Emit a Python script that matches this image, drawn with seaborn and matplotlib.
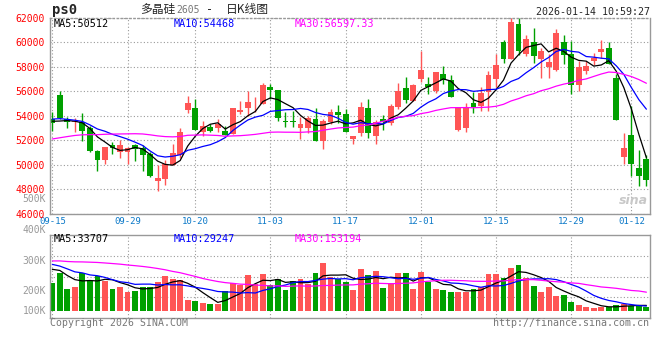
import matplotlib
matplotlib.use("Agg")
import matplotlib.pyplot as plt
import seaborn as sns
import pandas as pd
import numpy as np

# daily candles, 2025-09-15 .. 2026-01-14
open_ = [53730, 55700, 53735, 53470, 53470, 52980, 51090, 50360, 51630, 51040,
         51040, 51580, 51390, 50900, 48670, 48830, 50020, 50770, 54490, 54620,
         52710, 53090, 52980, 52790, 52520, 54270, 54600, 55000, 54950, 56380,
         56080, 53570, 53570, 52990, 53010, 53730, 51980, 53520, 54330, 54140,
         52120, 52600, 54600, 52380, 53730, 53410, 54680, 56240, 55210, 56970,
         56560, 56020, 57370, 56910, 52870, 53000, 55030, 54760, 55970, 56970,
         60010, 58640, 61490, 59040, 60010, 58640, 57960, 57770, 60010, 59040,
         56510, 57640, 58450, 59200, 59530, 57050, 50640, 52470, 49770, 50500]
close = [53410, 53790, 53520, 53600, 52790, 51090, 50360, 51450, 51390, 51580,
         51370, 51310, 50830, 49100, 48890, 50040, 50990, 52710, 55000, 52870,
         53190, 52760, 53310, 52440, 54620, 54490, 55130, 55080, 56480, 56100,
         53790, 53470, 53470, 53330, 53790, 51980, 53600, 54330, 54080, 52710,
         52380, 54680, 52580, 53520, 53470, 54810, 56020, 55270, 56480, 57770,
         56340, 57560, 56890, 55570, 54680, 54680, 54680, 55840, 57290, 58100,
         58640, 61630, 59250, 60280, 58850, 59310, 58360, 60740, 58990, 56510,
         57990, 58040, 58720, 59450, 58260, 53650, 51390, 50040, 49070, 48750]
high = [54300, 56020, 53920, 53790, 54220, 53190, 51230, 51450, 51850, 52060,
        51450, 51660, 51580, 51040, 49960, 50420, 51720, 52980, 55620, 55350,
        53570, 53310, 53730, 53190, 54620, 55210, 56020, 55490, 56700, 56560,
        56080, 54280, 54420, 53870, 53950, 54600, 53730, 54540, 54870, 54540,
        52380, 55130, 55350, 53680, 54060, 54950, 56700, 57150, 56620, 59250,
        57180, 57560, 58040, 57290, 54680, 55000, 55970, 56340, 57690, 59040,
        60140, 61950, 61950, 60600, 61140, 59500, 59040, 61090, 60600, 60060,
        58450, 58450, 59120, 60200, 60010, 57370, 52580, 54810, 51170, 50770]
low = [52790, 53700, 53000, 52710, 51980, 51040, 49480, 50040, 50910, 50580,
       50100, 50280, 49480, 49020, 47860, 48340, 49960, 50580, 54190, 52800,
       52380, 52660, 52710, 52440, 52520, 54140, 54000, 54280, 54950, 55350,
       53600, 53060, 53060, 52120, 52600, 51930, 51250, 53330, 53410, 52650,
       51720, 52330, 52200, 51720, 52870, 53250, 54540, 55080, 55210, 56750,
       55750, 55890, 56560, 55570, 52790, 52710, 54190, 54400, 54400, 56340,
       58320, 58640, 58990, 58850, 58320, 57100, 57050, 57640, 58230, 55750,
       56020, 57430, 58180, 58720, 58260, 53650, 50100, 49070, 48260, 48260]
# volume in thousands
vol_k = [214, 286, 166, 184, 291, 230, 268, 230, 166, 184,
         146, 153, 184, 184, 222, 268, 243, 235, 82, 74,
         61, 51, 51, 151, 210, 197, 273, 205, 281, 197,
         243, 159, 228, 243, 205, 291, 368, 256, 243, 218,
         159, 319, 273, 304, 172, 214, 291, 291, 166, 299,
         218, 166, 159, 146, 146, 146, 166, 184, 281, 281,
         253, 329, 350, 253, 192, 146, 184, 115, 120, 69,
         44, 28, 21, 28, 28, 44, 51, 36, 44, 28]
# sessions before the window (only feed the moving averages)
prior_close = [50800, 50600, 50900, 51200, 50700, 50400, 50500, 50900, 51300, 51100,
               51000, 51400, 51200, 51500, 51800, 51600, 51900, 52000, 52300, 52800,
               53400, 54100, 54300, 53800, 53900, 53700, 53300, 53900, 53440]
prior_vol_k = [280, 300, 260, 310, 290, 330, 350, 300, 320, 340, 310, 360, 397,
               480, 560, 620, 540, 510, 500, 528,
               420, 380, 410, 370, 385, 330, 360, 341, 340]

date_ticks = [0, 10, 19, 29, 39, 49, 59, 69, 77]
date_labels = ["09-15", "09-29", "10-20", "11-03", "11-17", "12-01", "12-15", "12-29", "01-12"]
price_ticks = list(range(46000, 62001, 2000))
vol_labels = ["500K", "400K", "300K", "200K", "100K"]

RED = "#ff5555"
GREEN = "#00a000"
GRID = "#9a9a9a"

n = len(close)
df = pd.DataFrame({"idx": np.arange(n), "open": open_, "close": close,
                   "high": high, "low": low, "vol": vol_k})
df["up"] = np.where(df["close"] >= df["open"], "up", "down")
allc = pd.Series(prior_close + close)
allv = pd.Series(prior_vol_k + vol_k)
for w in (5, 10, 30):
    df[f"ma{w}"] = allc.rolling(w).mean().values[-n:]
    df[f"vma{w}"] = allv.rolling(w).mean().values[-n:]

sns.set_style("white")
plt.rcParams['font.family'] = ['DejaVu Sans Mono']

W, H = 660, 360
fig = plt.figure(figsize=(6.6, 3.6), dpi=100)


def rect(x0, y0, x1, y1):
    return [x0 / W, 1 - y1 / H, (x1 - x0) / W, (y1 - y0) / H]


def ftext(x, y, s, **kw):
    fig.text(x / W, 1 - y / H, s, va="center", **kw)


ax = fig.add_axes(rect(50, 17.7, 650, 213.8))
vax = fig.add_axes(rect(50, 235, 650, 318))
xlim = (-0.31, 79.48)

# --- candles
cols = [RED if u == "up" else GREEN for u in df["up"]]
ax.vlines(df["idx"], df["low"], df["high"], colors=cols, lw=1, zorder=2)
body = np.maximum((df["close"] - df["open"]).abs(), 60)
ax.bar(df["idx"], body, bottom=np.minimum(df["open"], df["close"]),
       width=0.78, color=cols, linewidth=0, zorder=2)

sns.lineplot(x=df["idx"], y=df["ma5"], color="black", lw=0.9, ax=ax, zorder=3)
sns.lineplot(x=df["idx"], y=df["ma10"], color="#0000ff", lw=0.9, ax=ax, zorder=3)
sns.lineplot(x=df["idx"], y=df["ma30"], color="#ff00ff", lw=0.9, ax=ax, zorder=3)

ax.set_xlim(*xlim)
ax.set_ylim(46000, 62000)
ax.set_yticks(price_ticks)
ax.set_yticklabels([str(p) for p in price_ticks], color="#ff0000", fontsize=7)
ax.set_xticks(date_ticks)
ax.set_xticklabels(date_labels, color="#0a78c8", fontsize=6.5)
ax.tick_params(length=0, pad=2.5)
ax.tick_params(axis="y", pad=4)
ax.grid(True, color=GRID, ls=(0, (1, 2)), lw=0.8)
ax.set_xlabel("")
ax.set_ylabel("")

# --- volume
sns.barplot(x=df["idx"], y=df["vol"], hue=df["up"], palette={"up": RED, "down": GREEN},
            dodge=False, native_scale=True, width=0.78, saturation=1,
            errorbar=None, legend=False, ax=vax, linewidth=0)
sns.lineplot(x=df["idx"], y=df["vma5"], color="black", lw=0.9, ax=vax)
sns.lineplot(x=df["idx"], y=df["vma10"], color="#0000ff", lw=0.9, ax=vax)
sns.lineplot(x=df["idx"], y=df["vma30"], color="#ff00ff", lw=0.9, ax=vax)
vax.set_xlim(*xlim)
vlo, vhi = -56, 580
vax.set_ylim(vlo, vhi)
vax.set_yticks([vlo + (vhi - vlo) * q for q in (0.25, 0.5, 0.75)])
vax.set_xticks(date_ticks[:-1])
vax.tick_params(length=0, labelleft=False, labelbottom=False)
vax.grid(True, color=GRID, ls=(0, (1, 2)), lw=0.8)
vax.set_xlabel("")
vax.set_ylabel("")

for a in (ax, vax):
    for s in a.spines.values():
        s.set_color("#999999")
        s.set_linewidth(1)
ax.spines["top"].set_linestyle((0, (1, 2)))

# --- texts
ftext(52, 10, "ps0", fontsize=10, fontweight="bold")
ftext(140, 9.5, "多晶硅", fontsize=8.5, family=["Noto Sans CJK SC"])
ftext(176, 10, "2605", fontsize=7, color="#777777")
ftext(206, 9.5, "-", fontsize=8.5)
ftext(226, 9.5, "日K线图", fontsize=8.5, family=["Noto Sans CJK SC"])
ftext(650, 11.7, "2026-01-14 10:59:27", fontsize=7.2, ha="right")

ftext(54, 24, "MA5:50512", fontsize=7.3, color="black")
ftext(174, 24, "MA10:54468", fontsize=7.3, color="#0000ff")
ftext(295, 24, "MA30:56597.33", fontsize=7.3, color="#ff00ff")

ftext(54, 239, "MA5:33707", fontsize=7.3, color="black")
ftext(174, 239, "MA10:29247", fontsize=7.3, color="#0000ff")
ftext(295, 239, "MA30:153194", fontsize=7.3, color="#ff00ff")

for lab, yy in zip(vol_labels, [199.5, 230, 260.7, 290.7, 310.7]):
    ftext(46, yy, lab, fontsize=7, color="#999999", ha="right")

ftext(50, 323.5, "Copyright 2026 SINA.COM", fontsize=7.1, color="#777777")
ftext(649, 323.5, "http://finance.sina.com.cn", fontsize=7.2, color="#777777", ha="right")
ftext(633, 201, "sina", fontsize=9, color="#c8c8c8", ha="center",
      fontweight="bold", style="italic", family=["DejaVu Sans"])

fig.savefig("out.png", dpi=100, facecolor="white")
